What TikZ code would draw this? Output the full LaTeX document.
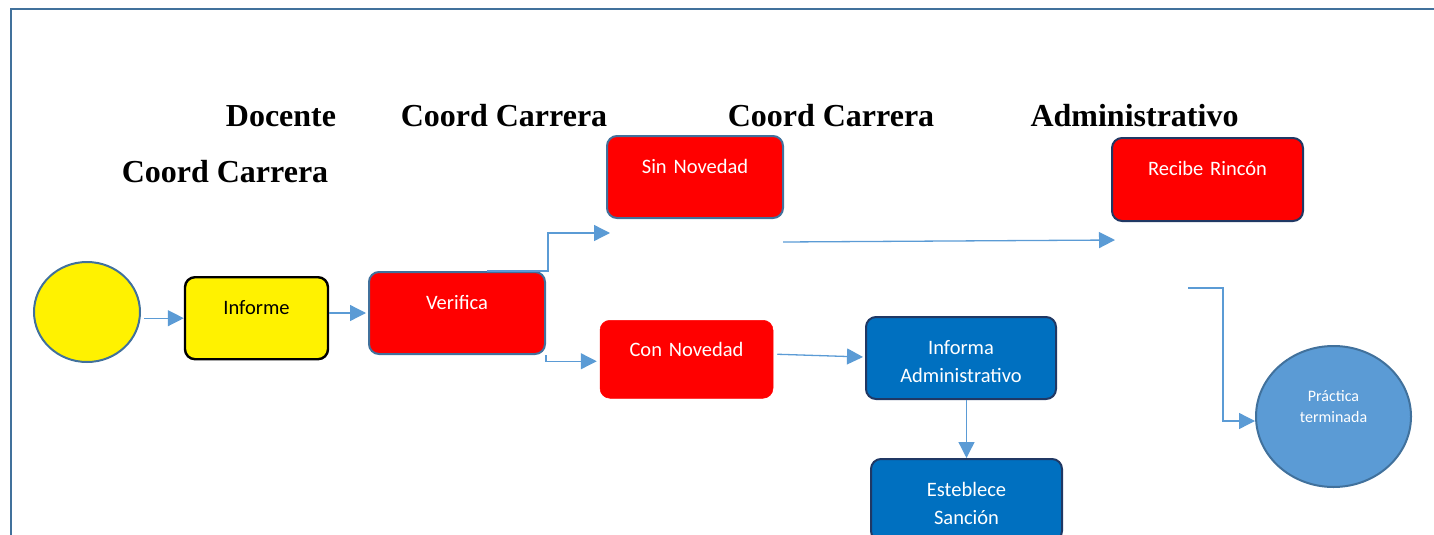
\documentclass[tikz,border=0pt]{standalone}
\usepackage{fontspec}
\setmainfont{Liberation Serif}
\newfontfamily\carl{Carlito}
\usetikzlibrary{arrows.meta,shapes.geometric}
\definecolor{framecol}{HTML}{41719C}
\definecolor{arrowcol}{HTML}{5B9BD5}
\definecolor{redfill}{HTML}{FF0000}
\definecolor{bluefill}{HTML}{0070C0}
\definecolor{navy}{HTML}{203864}
\definecolor{lightblue}{HTML}{5B9BD5}
\tikzset{
  hdr/.style={font=\fontsize{32}{36}\selectfont\bfseries, anchor=base, inner sep=0},
  box/.style={rectangle, rounded corners=10pt, anchor=north, inner sep=0, align=center,
     font=\carl\fontsize{20.5}{28}\selectfont},
  yellowbox/.style={box, fill=yellow, draw=black, line width=2.4pt, text=black},
  redbox/.style={box, fill=redfill, draw=framecol, line width=2pt, text=white},
  rednob/.style={box, fill=redfill, draw=redfill, line width=0.5pt, text=white},
  rednavy/.style={box, fill=redfill, draw=navy, line width=2pt, text=white},
  bluebox/.style={box, fill=bluefill, draw=navy, line width=2pt, text=white},
  conn/.style={draw=arrowcol, line width=1.3pt, -{Triangle[length=16pt,width=16pt]}},
}
\begin{document}
\begin{tikzpicture}[x=1pt,y=-1pt]
\useasboundingbox (0,0) rectangle (1434,535);
% frame
\draw[framecol, line width=2.5pt] (11,536) -- (11,9) -- (1435,9);
% headers
\node[hdr] (h1) at (281,126) {Docente};
\node[hdr] (h2) at (504,126) {Coord Carrera};
\node[hdr] (h3) at (831,126) {Coord Carrera};
\node[hdr] (h4) at (1134.5,126) {Administrativo};
\node[hdr] (h5) at (225,182) {Coord Carrera};
% shapes
\node[ellipse, fill=yellow, draw=framecol, line width=2pt, minimum width=106pt, minimum height=100pt, inner sep=0] (start) at (87,312) {};
\node[yellowbox, minimum width=143pt, text width=143pt, text height=37pt, text depth=45pt] (informe) at (256.5,276) {Informe};
\node[redbox, minimum width=176pt, text width=176pt, text height=37pt, text depth=45pt] (verifica) at (457,271) {Verifica};
\node[redbox, minimum width=176pt, text width=176pt, text height=37pt, text depth=45pt] (sinnov) at (695,135) {Sin Novedad};
\node[rednob, minimum width=173pt, text width=173pt, text height=36pt, text depth=42pt] (connov) at (686.5,320) {Con Novedad};
\node[bluebox, minimum width=190pt, text width=190pt, text height=37pt, text depth=45pt] (informa) at (961,316) {Informa\\Administrativo};
\node[bluebox, minimum width=191pt, text width=191pt, text height=37pt, text depth=45pt] (sancion) at (966.5,458) {Esteblece\\Sanción};
\node[rednavy, minimum width=191pt, text width=191pt, text height=37pt, text depth=46pt] (recibe) at (1207.5,137) {Recibe Rincón};
\node[ellipse, fill=lightblue, draw=framecol, line width=2pt, minimum width=155pt, minimum height=141pt, inner sep=0, align=center, text width=100pt, text height=11pt, text depth=42pt, text=white, font=\carl\fontsize{16}{21}\selectfont] (practica) at (1333.5,416.5) {Práctica\\terminada};
% free connector ends
\coordinate (sinIn) at (610,233);
\coordinate (sinOut) at (783,242);
\coordinate (recIn) at (1115,240);
\coordinate (recOut) at (1188,288);
% connectors
\draw[conn] ([xshift=3pt]start.east |- informe.west) -- (informe.west);
\draw[conn] (informe.east |- verifica.west) -- ([xshift=-2pt]verifica.west);
\draw[conn] ([xshift=30pt]verifica.north) -- ++(61,0) |- (sinIn);
\draw[conn] (verifica.south east) |- ([xshift=-3pt,yshift=-2pt]connov.west);
\draw[conn] (sinOut) -- (recIn);
\draw[conn] ([xshift=4pt,yshift=5pt]connov.east) -- ([xshift=-2pt,yshift=1pt]informa.west);
\draw[conn] (informa.south -| sancion.north) -- (sancion.north);
\draw[conn] (recOut) -- ++(35,0) |- ([yshift=-4.5pt]practica.west);
\end{tikzpicture}
\end{document}
